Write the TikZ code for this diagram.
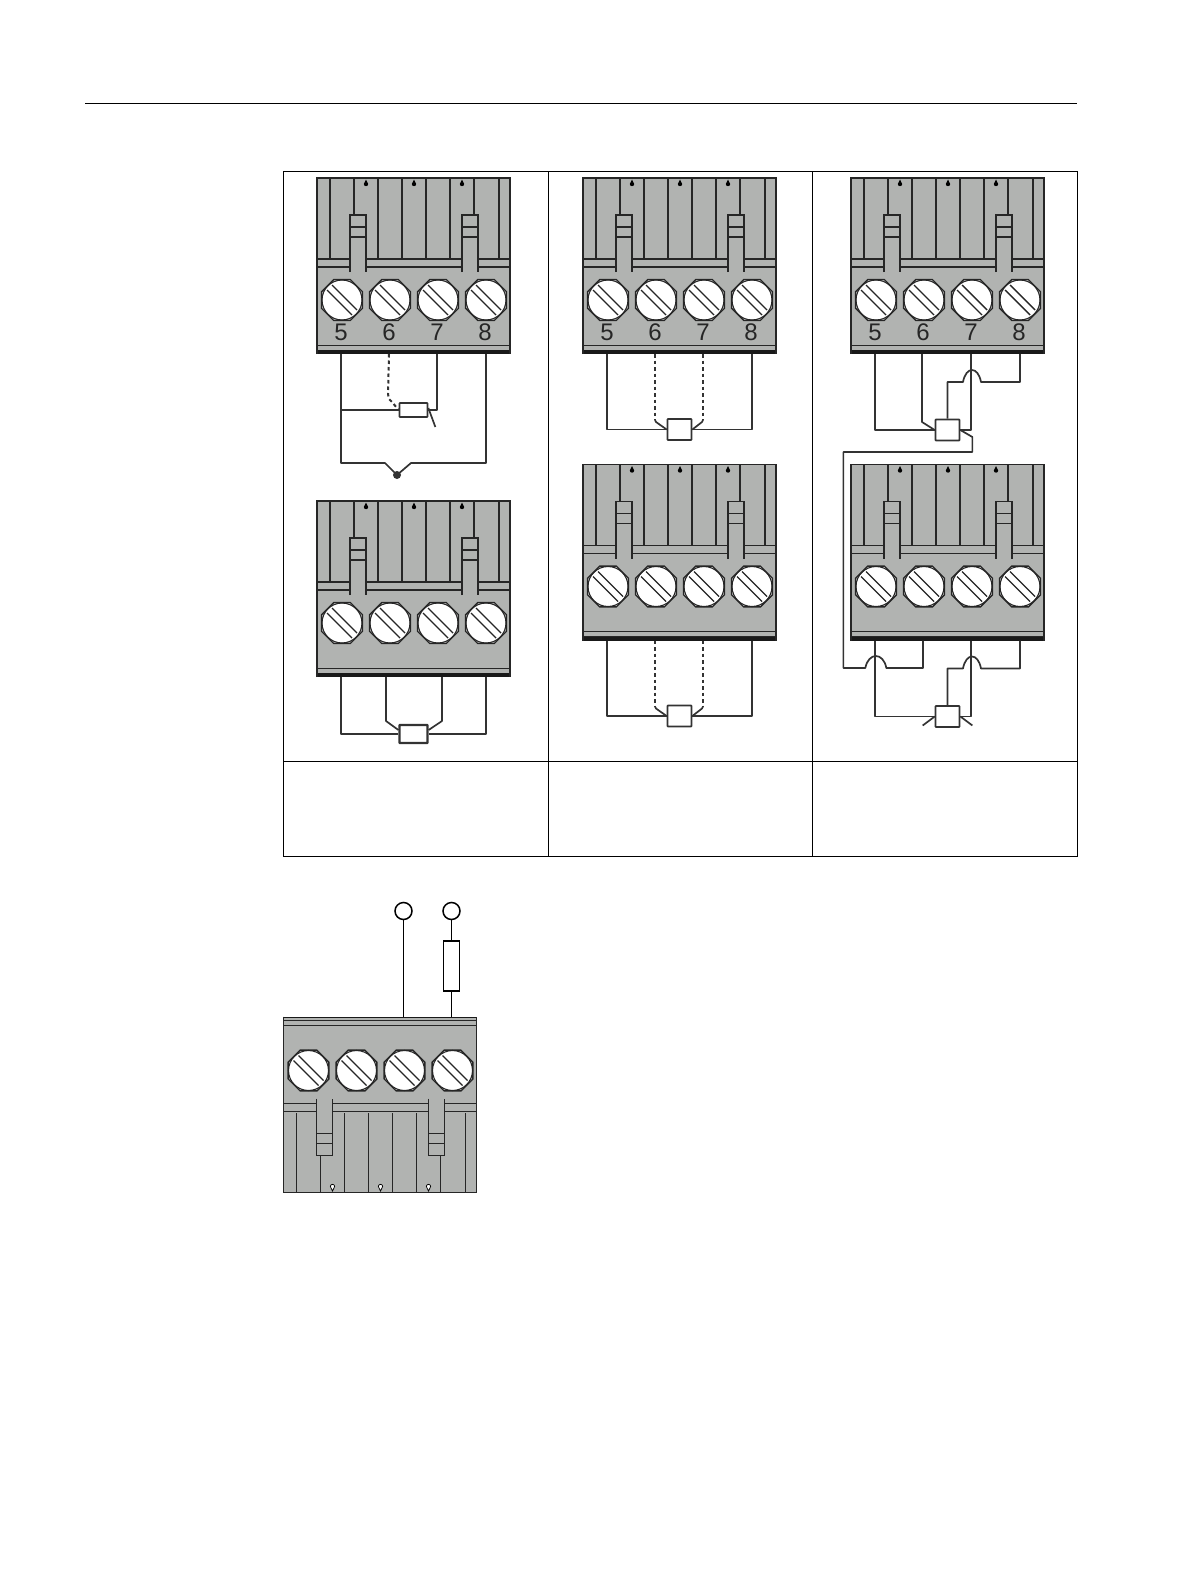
\documentclass[tikz,border=0pt]{standalone}
\usepackage{fontspec}
\setmainfont{Liberation Sans}
\usetikzlibrary{positioning, shapes.geometric}
\definecolor{plugfill}{HTML}{B1B3B1}
\definecolor{wirecol}{HTML}{333333}

\begin{document}
\begin{tikzpicture}[x=1pt, y=-1pt, on grid,
    plug line/.style={line width=1.5pt, draw=black!85},
    drop/.style={fill=black},
    wire/.style={line width=1.7pt, draw=wirecol, line join=round},
    shield/.style={wire, line width=2pt, dash pattern=on 3.5pt off 3pt},
    sensor/.style={draw=wirecol, line width=1.7pt, fill=white, rectangle, rounded corners=.5pt, inner sep=0pt, minimum width=24pt, minimum height=21pt},
    pinlabel/.style={font=\fontsize{24}{24}\selectfont, text=black!85, inner sep=0pt},
    terminal/.style={draw=black, line width=1.5pt, fill=white, circle, inner sep=0pt, minimum size=17pt},
    junction/.style={fill=wirecol, circle, inner sep=0pt, minimum size=8pt}]
    \tikzset{
        screw/.pic={
            \node[regular polygon, regular polygon sides=8, draw=black!85, line width=1.4pt, fill=white, inner sep=0pt, minimum size=44pt] (-h) {};
            \draw[black!85, line width=1.1pt] (0,0) circle (20pt);
            \draw[black!85, line width=1.4pt] (-15,-10) -- (10,15) (-10,-15) -- (15,10);
        },
        plug/.pic={
            \fill[plugfill] (0,0) rectangle (193,176);
            % Ranuras
            \foreach \xs in {13, 61, 85, 109, 133, 182}
                \draw[plug line] (\xs,0) -- (\xs,80);
            \foreach \xs in {37, 157}
                \draw[plug line] (\xs,0) -- (\xs,37);
            \foreach \xs in {49, 97, 145}
                \path[drop] (\xs+2.2,6) -- (\xs,1.5) -- (\xs-2.2,6) arc (180:360:2.2pt) -- cycle;
            \draw[plug line] (0,81) -- (33,81) (49,81) -- (145,81) (161,81) -- (193,81);
            \draw[plug line] (0,89) -- (33,89) (49,89) -- (145,89) (161,89) -- (193,89);
            % Pestanas
            \foreach \xs in {33, 145} {
                \draw[plug line] (\xs,94) -- (\xs,37) -- (\xs+16,37) -- (\xs+16,94);
                \draw[plug line] (\xs,49) -- (\xs+16,49) (\xs,59) -- (\xs+16,59);
            }
            % Tornillos
            \foreach \n/\xs in {1/25, 2/73, 3/121, 4/169} {
                \pic (-s\n) at (\xs,122) {screw};
                \coordinate (-p\n) at (\xs,122);
            }
            \coordinate (-b1) at (24,176);
            \coordinate (-b2) at (72,176);
            \coordinate (-b3) at (120,176);
            \coordinate (-b4) at (169,176);
            \coordinate (-mid) at (96.5,176);
            % Base
            \draw[black!85, line width=.9pt] (0,167) -- (193,167) (0,172) -- (193,172);
            \fill[black!90] (0,176) rectangle (193,176-#1);
            \draw[plug line] (0,176) -- (0,0) -- (193,0) -- (193,176);
        }
    }
    \useasboundingbox (0,0) rectangle (1191,1587);

    % Tabla
    \draw[line width=1pt] (85,103) -- (1077,103);
    \draw[line width=.8pt] (283.5,171) rectangle (1077,856)
        (283.5,761) -- (1077,761) (548.5,171) -- (548.5,856) (812.5,171) -- (812.5,856);

    % Regletas
    \pic (a) at (317,178) {plug=4};
    \pic (b) at (317,501) {plug=4};
    \pic (c) at (583,178) {plug=4};
    \pic (d) at (583,464.5) {plug=4};
    \pic (e) at (851,178) {plug=4};
    \pic (f) at (851,464.5) {plug=4};
    \pic[yscale=-1, plug line/.style={line width=.9pt, draw=black!85},
        drop/.style={fill=white, draw=black, line width=.7pt}] (g) at (283.5,1192.5) {plug=1.5};

    % Numeros
    \foreach \m in {a, c, e}
        \foreach \n/\t in {1/5, 2/6, 3/7, 4/8}
            \node[pinlabel] (\m\t) [below=32pt of \m-p\n, anchor=center, xshift=-1pt] {\t};

    % Sensores
    \node[sensor, minimum width=28pt, minimum height=14pt] (ra) [below=56pt of a-mid, anchor=center] {};
    \node[sensor, minimum width=28pt, minimum height=18pt, line width=2.2pt] (rb) [below=57pt of b-mid, anchor=center] {};
    \node[sensor] (rc) [below=75.5pt of c-mid, anchor=center] {};
    \node[sensor] (rd) [below=75.5pt of d-mid, anchor=center] {};
    \node[sensor] (re) [below=76pt of e-mid, anchor=center] {};
    \node[sensor] (rf) [below=76pt of f-mid, anchor=center] {};
    \node[junction] (da) [below left=121pt and 16.5pt of a-mid, anchor=center] {};
    \node[terminal] (ga) [above=105.5pt of g-b3, anchor=center] {};
    \node[terminal] (gb) [above=105.5pt of g-b4, anchor=center, xshift=-1pt] {};
    \node[draw=black, line width=1.3pt, fill=white, rectangle, inner sep=0pt, minimum width=16pt, minimum height=50pt] (rg) [below=55pt of gb, anchor=center] {};

    % Cables
    \draw[wire] (a-b1) -- ++(0,109) -- ++(44,0) -- (da.center) -- ++(14,-12) -| (a-b4);
    \draw[wire] (a-b1 |- ra.west) -- (ra.west);
    \draw[wire] (a-b3) |- (ra.east);
    \draw[wire] (ra.east) ++(0,-2) -- ++(7,19);
    \draw[shield] (a-b2) -- ++(-1,40) -- ++(1,5) -- ++(3,3) -- (ra.west);

    \draw[wire] (b-b1) |- (rb.west);
    \draw[wire] (b-b4) |- (rb.east);
    \draw[wire] ([xshift=-3pt]b-b2) -- ++(0,44) -- ([yshift=4pt]rb.west);
    \draw[wire] ([xshift=5pt]b-b3) -- ++(0,44) -- ([yshift=4pt]rb.east);

    \foreach \m in {c, d} {
        \draw[wire] (\m-b1) |- (r\m.west);
        \draw[wire] (\m-b4) |- (r\m.east);
        \draw[shield] (\m-b2) -- ++(0,66);
        \draw[wire] (\m-b2) ++(0,66) -- ++(1,2) -- (r\m.west);
        \draw[shield] (\m-b3) -- ++(0,66);
        \draw[wire] (\m-b3) ++(0,66) -- ++(-1,2) -- (r\m.east);
    }

    \draw[wire] (e-b1) |- (re.west);
    \draw[wire] ([xshift=-1pt]e-b2) -- ++(0,68) -- (re.west);
    \draw[wire] (e-b3) |- (re.east);
    \draw[wire] (e-b4) -- ++(0,28) -- ++(-39,0) .. controls +(-3,-16) and +(3,-16) .. ++(-18,0) -| (re.north);
    \draw[wire] (re.east) -- ++(12,7) -- ++(0,15) -- ++(-129,0) -- ++(0,216) -- ++(22,0)
        .. controls +(3,-16) and +(-3,-16) .. ++(21,0) -| (f-b2);

    \draw[wire] (f-b1) |- (rf.west);
    \draw[wire] (f-b3) |- (rf.east);
    \draw[wire] (f-b4) -- ++(0,28) -- ++(-39,0) .. controls +(-3,-16) and +(3,-16) .. ++(-18,0) -| (rf.north);
    \draw[wire] (rf.west) -- ++(-12,9);
    \draw[wire] (rf.east) -- ++(12,9);

    \draw[line width=1.3pt] (ga) -- (ga |- g-b3);
    \draw[line width=1.3pt] (gb) -- (rg);
    \draw[line width=1.3pt] (rg) -- (rg |- g-b4);
\end{tikzpicture}
\end{document}
